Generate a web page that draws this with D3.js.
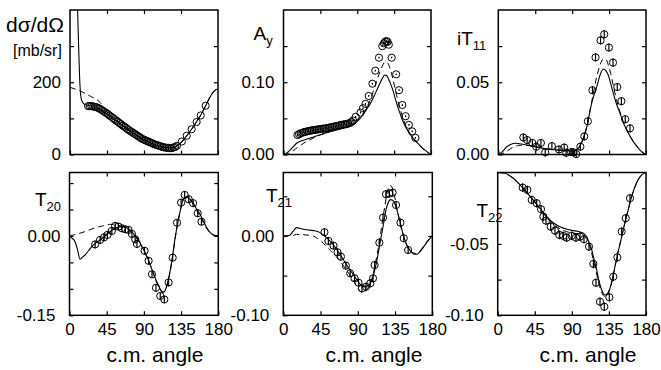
<!DOCTYPE html>
<html><head><meta charset="utf-8">
<script src="https://cdn.jsdelivr.net/npm/d3@7"></script>
<style>
body{margin:0;background:#fff}
svg{display:block}
text{font-family:"Liberation Sans",Arial,Helvetica,sans-serif;fill:#000}
</style>
</head><body><svg id="chart" width="661" height="370"></svg>
<script>
// ---------- data ----------
const angleTicks = [0, 45, 90, 135, 180];

// dsigma/dOmega [mb/sr]
const dsigData = [[22,134],[24,134],[26,134],[28,133],[30,132],[32,131],[34,129],[36,127],[38,124],[40,121],[42,118],[44,115],[46,112],[48,108],[50,105],[52,101],[54,98],[56,94],[58,91],[60,87],[62,84],[64,80],[66,77],[68,74],[70,70],[72,67],[74,64],[76,61],[78,58],[80,55],[82,52],[84,49],[86,46],[88,43],[90,41],[92,39],[94,37],[96,35],[98,33],[100,31],[102,29],[104,27],[106,26],[108,24],[110,23],[112,21],[114,20],[116,19],[118,18.5],[120,18],[122,17.5],[124,18],[126,19.5],[128,21],[130,24],[136,36],[142,52],[148,70],[154,90],[159,108],[165,135]];
const dsigErr = 0;
const dsigSolid = [[8.5,460],[9.5,380],[10.5,300],[11.5,225],[12.5,178],[13.5,156],[15,146],[17,140],[20,137],[25,135],[30,132],[35,126],[40,120],[45,112],[50,104],[55,96],[60,87],[65,79],[70,70],[75,62],[80,55],[85,47],[90,41],[95,35],[100,30],[105,25.5],[110,22],[115,19.5],[120,18],[125,19],[130,24],[135,33],[140,46],[145,61],[150,77],[155,95],[160,113],[165,135],[170,158],[175,175],[180,182]];
const dsigDashed = [[0,186],[5,182],[10,178],[15,173],[20,167],[25,161],[30,155],[35,148],[40,135],[45,118],[50,105],[55,96],[60,87],[65,79],[70,70],[75,62],[80,55],[85,47],[90,41],[95,35],[100,30],[105,25.5],[110,22],[115,19.5],[120,18],[125,19],[130,24],[135,33],[140,46],[145,61],[150,77],[155,95],[160,113],[165,135],[170,158],[175,175],[180,182]];

// A_y
const ayData = [[17,0.027],[19,0.028],[21,0.0295],[23,0.030],[25,0.031],[27,0.0315],[29,0.032],[31,0.0325],[33,0.033],[35,0.0335],[37,0.034],[39,0.034],[41,0.0345],[43,0.035],[45,0.035],[47,0.0355],[49,0.036],[51,0.036],[53,0.0365],[55,0.037],[57,0.0375],[59,0.038],[61,0.0385],[63,0.039],[65,0.0395],[67,0.040],[69,0.0405],[71,0.041],[73,0.0415],[75,0.042],[77,0.042],[79,0.043],[81,0.0435],[83,0.045],[85,0.047],[88,0.052],[94,0.058],[97,0.064],[100,0.070],[104,0.081],[108.5,0.098],[112,0.116],[116.5,0.134],[120.5,0.150],[122.5,0.154],[124,0.156],[125.5,0.157],[127,0.156],[128.5,0.152],[132,0.134],[137.5,0.111],[141,0.089],[145,0.0685],[149,0.053],[153,0.041],[157,0.032],[161,0.023]];
const ayErr = 0.0012;
const aySolid = [[0,0],[4,0.002],[8,0.006],[12,0.011],[16,0.0155],[20,0.018],[28,0.021],[36,0.024],[44,0.027],[55,0.031],[65,0.034],[75,0.037],[85,0.042],[92,0.048],[97,0.055],[101,0.062],[105,0.0685],[109,0.077],[113,0.087],[117,0.097],[120,0.104],[123.5,0.110],[126,0.109],[128,0.105],[131,0.097],[134,0.087],[137.5,0.073],[141.5,0.059],[145,0.048],[150,0.036],[155,0.027],[162,0.0177],[170,0.0086],[175,0.004],[180,0]];
const ayDashed = [[0,0],[5,0.001],[10,0.004],[15,0.008],[20,0.012],[25,0.016],[30,0.019],[35,0.022],[40,0.025],[50,0.029],[60,0.033],[70,0.036],[80,0.040],[90,0.048],[95,0.054],[100,0.062],[105,0.073],[110,0.089],[115,0.106],[120,0.121],[124,0.128],[127,0.127],[130,0.119],[134,0.102],[138,0.082],[142,0.064],[146,0.050],[150,0.038],[156,0.026],[162,0.017],[170,0.008],[180,0]];

// iT_11
const it11Data = [[30.5,0.0118],[35.2,0.010],[41.5,0.008],[46.2,0.0054],[51.9,0.008],[57.2,0.0015],[65.3,0.0058],[73.9,0.0035],[80.3,0.0048],[82.7,0.0012],[88.8,0.0017],[91.6,0.0015],[95,0.0003],[100,0.0054],[104.8,0.0125],[109.1,0.023],[114.7,0.0445],[118.5,0.0672],[124.6,0.079],[129.1,0.0832],[134.8,0.074],[139.8,0.0636],[145,0.0467],[150,0.0369],[154.7,0.0244],[160.5,0.0181]];
const it11Err = 0.0028;
const it11Solid = [[0,0],[5,0.002],[10,0.0052],[15,0.007],[21,0.0078],[28,0.0073],[35,0.0066],[43,0.0056],[51,0.0047],[60,0.0038],[71,0.0031],[82,0.0027],[92,0.0026],[96,0.0035],[99,0.0054],[102,0.009],[106,0.015],[109,0.022],[112,0.031],[116,0.040],[120,0.047],[124,0.055],[128,0.0592],[131,0.058],[134,0.055],[137,0.049],[140.2,0.0423],[144,0.035],[148.4,0.0285],[152,0.0225],[156.5,0.017],[160.5,0.0128],[164.6,0.0089],[168.5,0.006],[172.7,0.0031],[176,0.0013],[180,0]];
const it11Dashed = [[0,0],[5,0.0006],[10,0.002],[15,0.004],[20,0.0055],[27,0.0064],[35,0.0063],[45,0.0054],[55,0.0044],[65,0.0035],[75,0.003],[85,0.0027],[92,0.0028],[96,0.0038],[100,0.0064],[104,0.012],[108,0.020],[112,0.031],[116,0.043],[120,0.054],[124,0.062],[128,0.066],[131,0.066],[134,0.062],[137,0.056],[140,0.048],[144,0.038],[148,0.030],[152,0.023],[156,0.0175],[160,0.013],[165,0.0085],[170,0.0048],[175,0.002],[180,0]];

// T_20
const t20Data = [[31,-0.016],[37,-0.0076],[41.9,-0.0025],[45.9,0.002],[51.2,0.0095],[55.2,0.019],[59.2,0.0177],[63.4,0.0145],[67.4,0.0126],[71.4,0.0114],[75.5,0.0038],[79.5,-0.0063],[81.6,-0.0151],[90.8,-0.028],[95.7,-0.047],[99.8,-0.0725],[104.6,-0.098],[109.8,-0.1135],[114.7,-0.12],[119.9,-0.088],[124.8,-0.041],[130.1,0.025],[135,0.063],[139.3,0.0776],[144.2,0.0695],[149.5,0.062],[155.1,0.043],[159.6,0.027]];
const t20Err = 0.007;
const t20Solid = [[0,0],[3,-0.004],[6.7,-0.011],[10,-0.028],[12.7,-0.044],[15,-0.041],[18.8,-0.036],[23,-0.028],[27,-0.020],[32,-0.013],[37,-0.0076],[43,0.000],[49,0.008],[55,0.0145],[60,0.017],[64,0.0177],[68,0.016],[73.4,0.0114],[78,0.003],[83.5,-0.0076],[88,-0.021],[93.7,-0.039],[98,-0.056],[103.8,-0.08],[108,-0.095],[111.9,-0.105],[114,-0.106],[116,-0.102],[119,-0.086],[122,-0.064],[125,-0.034],[128,-0.0013],[131,0.025],[134.1,0.049],[138.1,0.071],[142.2,0.074],[145,0.071],[148.3,0.065],[153,0.053],[158.4,0.0395],[162,0.028],[166.5,0.0145],[170,0.007],[174.5,0.0019],[180,0]];
const t20Dashed = [[0,0],[5,0.002],[10,0.004],[15,0.0063],[20,0.009],[25,0.012],[30,0.015],[35,0.017],[40,0.019],[45,0.0208],[50,0.022],[55,0.021],[60,0.019],[64,0.017],[68,0.015],[73,0.010],[78,0.002],[83,-0.009],[88,-0.022],[94,-0.041],[99,-0.06],[104,-0.082],[108,-0.097],[112,-0.106],[114,-0.107],[116,-0.103],[119,-0.087],[122,-0.065],[125,-0.036],[128,-0.003],[131,0.024],[134,0.048],[138,0.069],[142,0.073],[145,0.070],[148,0.064],[153,0.051],[158,0.036],[162,0.025],[166,0.014],[170,0.006],[175,0.001],[180,0]];

// T_21
const t21Data = [[49.7,0.0047],[54.5,-0.0063],[60.6,-0.0122],[65.5,-0.0206],[69.6,-0.026],[75.6,-0.0374],[80.8,-0.047],[86.1,-0.0534],[90.9,-0.0589],[95,-0.066],[99.9,-0.064],[105.1,-0.0597],[108.4,-0.0534],[110.3,-0.0366],[116,-0.0084],[120.5,0.0231],[124.1,0.0526],[128.1,0.0534],[132.1,0.0546],[136.2,0.039],[141.5,0.0168],[145.5,-0.0029],[150.8,-0.0177]];
const t21Err = 0.005;
const t21Solid = [[0,0],[4,0.0003],[8,0.0013],[12,0.006],[16,0.0105],[20,0.0098],[24,0.0084],[30,0.0076],[36.4,0.0067],[44.4,0.0042],[50,0.000],[55,-0.005],[60,-0.011],[66,-0.019],[72.7,-0.030],[78,-0.039],[84.8,-0.049],[90,-0.057],[95,-0.063],[99,-0.064],[103,-0.062],[107.2,-0.0555],[110,-0.045],[113.2,-0.030],[117,-0.008],[121.2,0.016],[124,0.033],[127.3,0.0433],[129.5,0.0458],[131.4,0.0454],[135.4,0.039],[138,0.030],[141.5,0.016],[144.5,0.003],[147.6,-0.0072],[151,-0.015],[155.6,-0.021],[158.5,-0.023],[161.7,-0.023],[165,-0.020],[169.7,-0.0135],[175,-0.006],[180,0]];
const t21Dashed = [[0,0],[6,0.0002],[12,0.0005],[16,0.002],[20,0.0018],[25,0.0015],[30,0.001],[36,0.000],[41,-0.003],[46,-0.007],[52.5,-0.0135],[58,-0.019],[64,-0.026],[70,-0.034],[76,-0.042],[82,-0.052],[88,-0.062],[93,-0.070],[96,-0.072],[100,-0.069],[104,-0.062],[108,-0.050],[111,-0.036],[115,-0.014],[119,0.013],[123,0.040],[126,0.057],[129,0.064],[131,0.062],[134,0.052],[137,0.036],[141,0.016],[145,0.000],[148,-0.009],[152,-0.017],[156,-0.021],[160,-0.022],[165,-0.019],[170,-0.012],[175,-0.005],[180,0]];

// T_22
const t22Data = [[30.3,-0.0106],[36,-0.0122],[41.3,-0.0192],[47.3,-0.0215],[52.6,-0.0257],[55.4,-0.0309],[58.6,-0.0337],[64.3,-0.0379],[69.5,-0.0407],[74.8,-0.0437],[79.6,-0.0444],[83.7,-0.0456],[89.8,-0.0444],[95,-0.0456],[99.9,-0.0449],[104.7,-0.0467],[110.8,-0.0519],[116.1,-0.064],[119.3,-0.0772],[124.2,-0.0905],[129.4,-0.094],[135.5,-0.0874],[140.3,-0.073],[145.2,-0.0594],[150.5,-0.0414],[155.4,-0.032],[160.6,-0.018]];
const t22Err = 0.003;
const t22Solid = [[0,0],[4,-0.0001],[8.9,-0.0005],[14,-0.002],[19,-0.004],[24,-0.0068],[29,-0.0099],[36,-0.0145],[43.2,-0.0193],[51,-0.025],[59.5,-0.031],[67,-0.035],[75.6,-0.038],[84,-0.0398],[91.8,-0.0407],[97,-0.0412],[102,-0.042],[105,-0.043],[108,-0.045],[111,-0.049],[114.1,-0.054],[117,-0.061],[120.2,-0.0684],[123,-0.076],[126.2,-0.0823],[128.5,-0.085],[130.2,-0.0858],[132,-0.0855],[134,-0.084],[136.3,-0.081],[139,-0.075],[142.3,-0.066],[146,-0.056],[150.5,-0.045],[154.5,-0.035],[158.5,-0.026],[162.5,-0.017],[166.6,-0.01],[170.5,-0.005],[174.8,-0.0017],[180,0]];
const t22Dashed = [[0,0],[5,-0.0002],[10,-0.0008],[15,-0.0025],[20,-0.0048],[25,-0.0075],[30,-0.0105],[37,-0.015],[44,-0.020],[52,-0.026],[60,-0.032],[68,-0.0365],[76,-0.0395],[84,-0.0415],[92,-0.0425],[98,-0.043],[103,-0.0438],[107,-0.046],[110,-0.049],[113,-0.054],[116,-0.061],[119,-0.068],[122,-0.076],[125,-0.082],[128,-0.086],[130.5,-0.087],[133,-0.0865],[135.5,-0.083],[138.5,-0.077],[142,-0.067],[146,-0.056],[150,-0.046],[154,-0.036],[158,-0.027],[162,-0.018],[166,-0.011],[170,-0.0055],[175,-0.0018],[180,0]];

// y axis domains / ticks / labels
const dsigY = [0, 400],      dsigTicks = [100, 200, 300],           dsigLabels = [0, 200];
const ayY = [0, 0.2],        ayTicks = [0.05, 0.10, 0.15],          ayLabels = [0, 0.10];
const it11Y = [0, 0.1],      it11Ticks = [0.025, 0.05, 0.075],      it11Labels = [0, 0.05];
const t20Y = [-0.15, 0.12],  t20Ticks = [-0.10, -0.05, 0, 0.05, 0.10], t20Labels = [0, -0.15];
const t21Y = [-0.10, 0.08],  t21Ticks = [-0.05, 0, 0.05],           t21Labels = [0, -0.10];
const t22Y = [-0.10, 0],     t22Ticks = [-0.075, -0.05, -0.025],    t22Labels = [-0.05, -0.10];

// ---------- layout ----------
const f2 = d => d3.format('.2f')(d).replace('\u2212', '-');
const panels = [
  {id:'dsig', data:dsigData, err:dsigErr, solid:dsigSolid, dashed:dsigDashed, yd:dsigY, yt:dsigTicks, yl:dsigLabels, fmt:d3.format('d'),
   left:70, right:218, top:10, bottom:154.5, xlabels:false},
  {id:'ay', data:ayData, err:ayErr, solid:aySolid, dashed:ayDashed, yd:ayY, yt:ayTicks, yl:ayLabels, fmt:f2,
   left:283.5, right:431, top:10, bottom:154.5, xlabels:false, title:['A','y'], tx:253.5, ty:40},
  {id:'it11', data:it11Data, err:it11Err, solid:it11Solid, dashed:it11Dashed, yd:it11Y, yt:it11Ticks, yl:it11Labels, fmt:f2,
   left:498.3, right:646, top:10, bottom:154.5, xlabels:false, title:['iT','11'], tx:457, ty:45},
  {id:'t20', data:t20Data, err:t20Err, solid:t20Solid, dashed:t20Dashed, yd:t20Y, yt:t20Ticks, yl:t20Labels, fmt:f2,
   left:69.5, right:218.3, top:172.5, bottom:315.3, xlabels:true, title:['T','20'], tx:35, ty:205.5, cmx:155},
  {id:'t21', data:t21Data, err:t21Err, solid:t21Solid, dashed:t21Dashed, yd:t21Y, yt:t21Ticks, yl:t21Labels, fmt:f2,
   left:283.3, right:432.3, top:172.5, bottom:315.3, xlabels:true, title:['T','21'], tx:266, ty:201.5, cmx:374},
  {id:'t22', data:t22Data, err:t22Err, solid:t22Solid, dashed:t22Dashed, yd:t22Y, yt:t22Ticks, yl:t22Labels, fmt:f2,
   left:497.7, right:646, top:172.5, bottom:315.3, xlabels:true, title:['T','22'], tx:476.5, ty:216.5, cmx:588}
];

const svg = d3.select('#chart');
const defs = svg.append('defs');

panels.forEach(p => {
  const x = d3.scaleLinear().domain([0,180]).range([p.left, p.right]);
  const y = d3.scaleLinear().domain(p.yd).range([p.bottom, p.top]);
  const g = svg.append('g');

  defs.append('clipPath').attr('id','clip-'+p.id)
    .append('rect').attr('x',p.left).attr('y',p.top)
    .attr('width',p.right-p.left).attr('height',p.bottom-p.top);

  const line = d3.line().x(d=>x(d[0])).y(d=>y(d[1])).curve(d3.curveMonotoneX);
  const cg = g.append('g').attr('clip-path','url(#clip-'+p.id+')');
  cg.append('path').datum(p.dashed).attr('d',line)
    .attr('fill','none').attr('stroke','#000').attr('stroke-width',1).attr('stroke-dasharray','6,4');
  cg.append('path').datum(p.solid).attr('d',line)
    .attr('fill','none').attr('stroke','#000').attr('stroke-width',1.1);

  // data points
  const pts = g.append('g');
  pts.selectAll('circle').data(p.data).enter().append('circle')
    .attr('cx',d=>x(d[0])).attr('cy',d=>y(d[1])).attr('r',3.6)
    .attr('fill','none').attr('stroke','#000').attr('stroke-width',1);
  if (p.err > 0) {
    pts.selectAll('line').data(p.data).enter().append('line')
      .attr('x1',d=>x(d[0])).attr('x2',d=>x(d[0]))
      .attr('y1',d=>y(d[1]-p.err)).attr('y2',d=>y(d[1]+p.err))
      .attr('stroke','#000').attr('stroke-width',1.2);
  }

  // axes (inward ticks)
  const fs = '17px';
  const bottomAx = d3.axisBottom(x).tickValues(angleTicks).tickSizeInner(-4).tickSizeOuter(0).tickPadding(8)
    .tickFormat(d => p.xlabels ? d : '');
  const topAx = d3.axisTop(x).tickValues([45,90,135]).tickSizeInner(-4).tickSizeOuter(0).tickFormat('');
  const allY = Array.from(new Set(p.yt.concat(p.yl)));
  const leftAx = d3.axisLeft(y).tickValues(allY).tickSizeInner(-4).tickSizeOuter(0).tickPadding(9)
    .tickFormat(d => p.yl.includes(d) ? p.fmt(d) : '');
  const rightAx = d3.axisRight(y).tickValues(p.yt).tickSizeInner(-4).tickSizeOuter(0).tickFormat('');

  [[bottomAx,`translate(0,${p.bottom})`],[topAx,`translate(0,${p.top})`],
   [leftAx,`translate(${p.left},0)`],[rightAx,`translate(${p.right},0)`]].forEach(([ax,tr]) => {
    const a = g.append('g').attr('transform',tr).call(ax);
    a.select('.domain').remove();
    a.selectAll('line').attr('stroke','#000').attr('stroke-width',1.2);
    a.selectAll('text').attr('font-size',fs).attr('font-family','"Liberation Sans",Arial,sans-serif').attr('fill','#000');
  });
  // shift the lowest label of the bottom-row panels
  if (p.xlabels) {
    g.selectAll('text').filter(d => d === p.yd[0]).attr('dx', -5);
  }

  g.append('rect').attr('x',p.left).attr('y',p.top)
    .attr('width',p.right-p.left).attr('height',p.bottom-p.top)
    .attr('fill','none').attr('stroke','#000').attr('stroke-width',1.5);

  if (p.title) {
    const t = g.append('text').attr('x',p.tx).attr('y',p.ty).attr('font-size','19px');
    t.append('tspan').text(p.title[0]);
    t.append('tspan').attr('font-size','13px').attr('dy',5).text(p.title[1]);
  }
  if (p.xlabels) {
    g.append('text').attr('x',p.cmx).attr('y',362).attr('text-anchor','middle')
      .attr('font-size','21px').text('c.m. angle');
  }
});

// first panel titles
svg.append('text').attr('x',6).attr('y',31.5).attr('font-size','21px').text('dσ/dΩ');
svg.append('text').attr('x',13).attr('y',55.5).attr('font-size','16px').text('[mb/sr]');
</script>
</body></html>
